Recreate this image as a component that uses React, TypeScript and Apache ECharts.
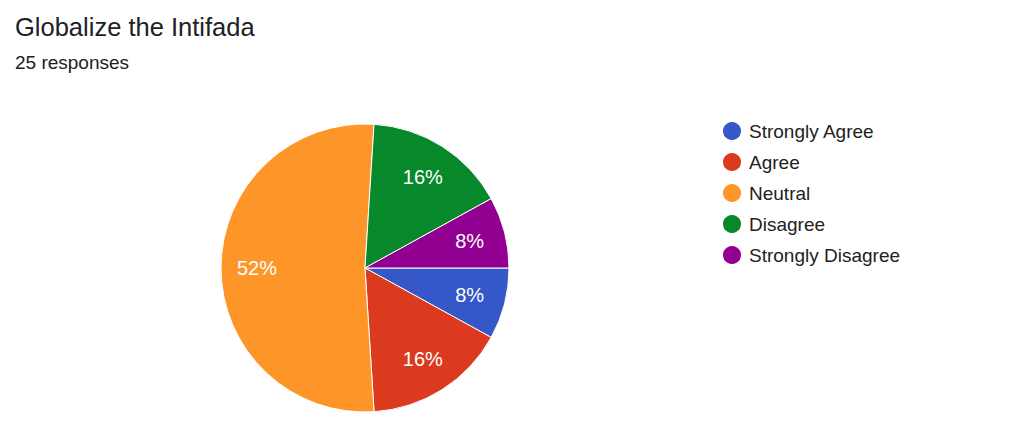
import React, { useEffect, useRef } from "react";
import * as echarts from "echarts";

const categories = ["Strongly Agree", "Agree", "Neutral", "Disagree", "Strongly Disagree"];
const counts = [2, 4, 13, 4, 2];
const colors = ["#3557c7", "#dc3a1e", "#fe9528", "#07882a", "#920091"];
const titleText = "Globalize the Intifada";
const subtitleText = "25 responses";

export default function App() {
  const ref = useRef<HTMLDivElement>(null);
  useEffect(() => {
    if (!ref.current) return;
    const chart = echarts.init(ref.current, undefined, { renderer: "svg" });
    const total = counts.reduce((a, b) => a + b, 0);
    const data = categories.map((name, i) => ({
      name,
      value: counts[i],
      itemStyle: { color: colors[i] },
    }));
    chart.setOption({
      animation: false,
      color: colors,
      title: {
        text: titleText,
        subtext: subtitleText,
        left: 10,
        top: 9,
        itemGap: 13,
        textStyle: { fontFamily: "Liberation Sans", fontSize: 25.5, fontWeight: "normal", color: "#202124" },
        subtextStyle: { fontFamily: "Liberation Sans", fontSize: 19, color: "#202124" },
      },
      legend: {
        orient: "vertical",
        left: 716,
        top: 115,
        itemWidth: 20,
        itemHeight: 20,
        itemGap: 9,
        icon: "circle",
        textStyle: {
          fontFamily: "Liberation Sans",
          fontSize: 19,
          lineHeight: 20,
          color: "#222222",
          padding: [0, 0, 0, 2],
        },
        data: categories,
      },
      series: [
        {
          type: "pie",
          center: [365, 268],
          radius: [0, 144],
          startAngle: 0,
          clockwise: true,
          data,
          label: { show: false },
          labelLine: { show: false },
          itemStyle: { borderColor: "#ffffff", borderWidth: 1 },
          emphasis: { disabled: true },
        },
        {
          type: "pie",
          center: [365, 268],
          radius: [66, 144],
          startAngle: 0,
          clockwise: true,
          silent: true,
          data: data.map((d) => ({ name: d.name, value: d.value, itemStyle: { color: "rgba(0,0,0,0)" } })),
          legendHoverLink: false,
          label: {
            show: true,
            position: "inside",
            formatter: (p: any) => Math.round((p.value / total) * 100) + "%",
            color: "#ffffff",
            fontFamily: "Liberation Sans",
            fontSize: 20,
          },
          labelLine: { show: false },
          emphasis: { disabled: true },
        },
      ],
    });
    return () => chart.dispose();
  }, []);
  return (
    <div
      ref={ref}
      style={{ position: "fixed", left: 0, top: 0, width: 1016, height: 433, background: "#ffffff" }}
    />
  );
}
